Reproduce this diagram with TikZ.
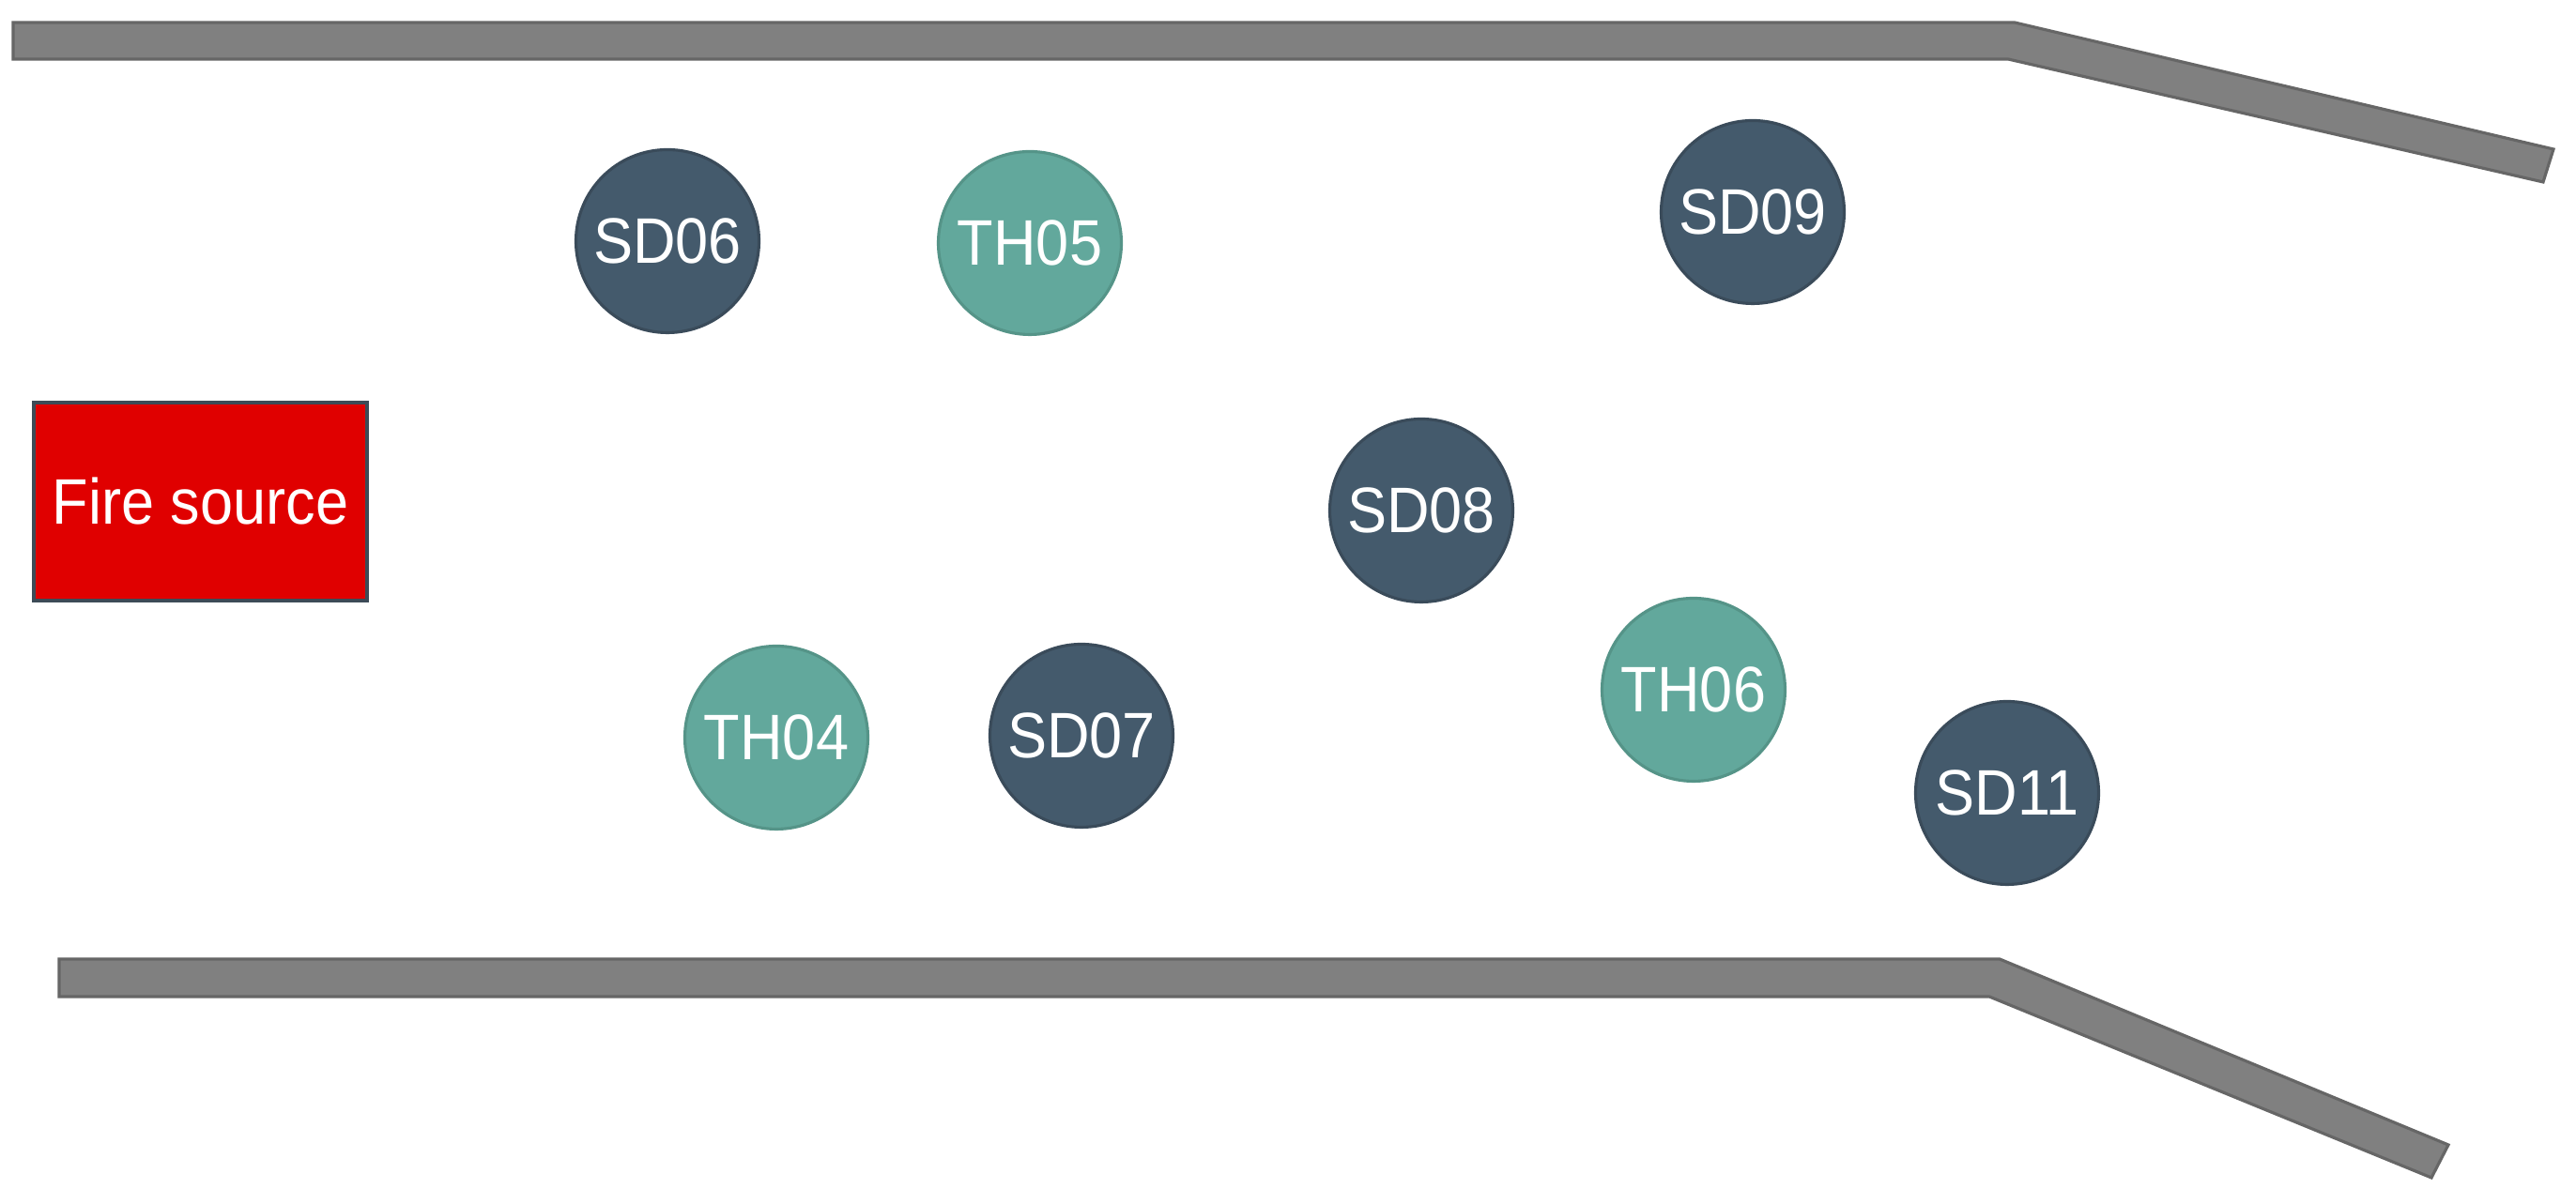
\documentclass[tikz,border=0pt]{standalone}
\usepackage{fontspec}
\setmainfont{Liberation Sans}[FakeStretch=0.92]
\definecolor{sdfill}{HTML}{445A6C}
\definecolor{sdline}{HTML}{3A4B5A}
\definecolor{thfill}{HTML}{62A89C}
\definecolor{thline}{HTML}{559488}
\definecolor{wallfill}{HTML}{808080}
\definecolor{wallline}{HTML}{666666}
\definecolor{firefill}{HTML}{E00000}
\definecolor{fireline}{HTML}{3D4B57}

\begin{document}
\begin{tikzpicture}[every node/.style={text=white, font=\fontsize{19.5}{23}\selectfont, inner sep=0pt},
  sensor/.style={circle, line width=0.9pt, minimum size=1.95cm},
  smoke/.style={sensor, draw=sdline, fill=sdfill},
  heat/.style={sensor, draw=thline, fill=thfill},
  wall/.style={draw=wallline, fill=wallfill, line width=0.9pt}]
  \useasboundingbox (0,0) rectangle (27.44,12.83);
  % walls
  \draw[wall] (0.14,12.59) -- (21.46,12.59) -- (27.20,11.24) -- (27.09,10.89) -- (21.39,12.20) -- (0.14,12.20) -- cycle;
  \draw[wall] (0.63,2.61) -- (21.30,2.61) -- (26.08,0.63) -- (25.90,0.28) -- (21.19,2.21) -- (0.63,2.21) -- cycle;
  \node[rectangle, draw=fireline, fill=firefill, line width=1.1pt, minimum width=3.55cm, minimum height=2.11cm] (fire) at (2.135, 7.485) {Fire source};
  \node[smoke] (sd06) at (7.11, 10.26) {SD06};
  \node[heat] (th05) at (10.97, 10.24) {TH05};
  \node[smoke] (sd09) at (18.67, 10.57) {SD09};
  \node[smoke] (sd08) at (15.14, 7.39) {SD08};
  \node[heat] (th04) at (8.27, 4.97) {TH04};
  \node[smoke] (sd07) at (11.52, 4.99) {SD07};
  \node[heat] (th06) at (18.04, 5.48) {TH06};
  \node[smoke] (sd11) at (21.38, 4.38) {SD11};
\end{tikzpicture}
\end{document}
